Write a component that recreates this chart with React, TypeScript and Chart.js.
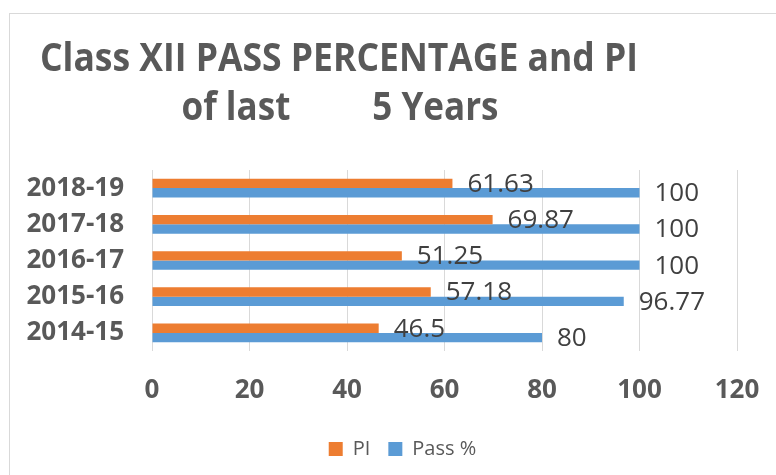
import React, { useEffect, useRef } from "react";
import { Chart, registerables } from "chart.js";

Chart.register(...registerables);

const CATEGORIES = ["2018-19", "2017-18", "2016-17", "2015-16", "2014-15"];
const PI_VALUES = [61.63, 69.87, 51.25, 57.18, 46.5];
const PASS_VALUES = [100, 100, 100, 96.77, 80];
const SERIES_NAMES = ["PI", "Pass %"];
const SERIES_COLORS = ["#ED7D31", "#5B9BD5"];
const X_MIN = 0;
const X_MAX = 120;
const X_STEP = 20;
const TITLE_LINES = ["Class XII PASS PERCENTAGE and PI", "of last         5 Years"];

const FONT = "'Open Sans', 'DejaVu Sans', sans-serif";

const titlePlugin = {
  id: "twoLineTitle",
  afterDraw(chart: any) {
    const ctx = chart.ctx;
    ctx.save();
    ctx.fillStyle = "#595959";
    ctx.font = `bold 39px ${FONT}`;
    ctx.textAlign = "center";
    ctx.textBaseline = "alphabetic";
    ctx.fillText(TITLE_LINES[0], 339, 71, 598);
    ctx.fillText(TITLE_LINES[1], 340, 120, 317);
    ctx.restore();
  },
};

const valueLabelPlugin = {
  id: "valueLabels",
  afterDatasetsDraw(chart: any) {
    const ctx = chart.ctx;
    ctx.save();
    ctx.font = `26px ${FONT}`;
    ctx.fillStyle = "#404040";
    ctx.textAlign = "left";
    ctx.textBaseline = "middle";
    chart.data.datasets.forEach((ds: any, di: number) => {
      const meta = chart.getDatasetMeta(di);
      meta.data.forEach((bar: any, i: number) => {
        ctx.fillText(String(ds.data[i]), bar.x + 15, bar.y + 1);
      });
    });
    ctx.restore();
  },
};

const legendShiftPlugin = {
  id: "legendShift",
  afterLayout(chart: any) {
    const lg = chart.legend;
    if (lg) {
      lg.left += 34;
      lg.right += 34;
    }
  },
};

export default function App() {
  const ref = useRef<HTMLCanvasElement>(null);

  useEffect(() => {
    if (!ref.current) return;
    const chart = new Chart(ref.current, {
      type: "bar",
      data: {
        labels: CATEGORIES,
        datasets: [
          {
            label: SERIES_NAMES[0],
            data: PI_VALUES,
            backgroundColor: SERIES_COLORS[0],
            barPercentage: 1,
            categoryPercentage: 0.516,
          },
          {
            label: SERIES_NAMES[1],
            data: PASS_VALUES,
            backgroundColor: SERIES_COLORS[1],
            barPercentage: 1,
            categoryPercentage: 0.516,
          },
        ],
      },
      options: {
        indexAxis: "y",
        responsive: false,
        animation: false,
        devicePixelRatio: 1,
        layout: { padding: { top: 170, right: 39, left: 0, bottom: 6 } },
        plugins: {
          title: { display: false },
          tooltip: { enabled: false },
          legend: {
            display: true,
            position: "bottom",
            labels: {
              boxWidth: 14,
              boxHeight: 14,
              padding: 18,
              color: "#595959",
              font: { family: FONT, size: 20 },
            },
          },
        },
        scales: {
          x: {
            min: X_MIN,
            max: X_MAX,
            ticks: {
              stepSize: X_STEP,
              padding: 24,
              color: "#595959",
              font: { family: FONT, size: 26, weight: "bold" },
            },
            grid: { color: "#d9d9d9", lineWidth: 1, drawTicks: false },
            border: { display: false },
            afterFit: (scale: any) => {
              scale.height = 70;
              scale.paddingLeft = 0;
              scale.paddingRight = 0;
            },
          },
          y: {
            ticks: {
              padding: 28,
              color: "#595959",
              font: { family: FONT, size: 26, weight: "bold" },
            },
            grid: { display: false, drawTicks: false },
            border: { display: false },
            afterFit: (scale: any) => {
              scale.width = 152;
              scale.paddingTop = 0;
              scale.paddingBottom = 0;
            },
          },
        },
      },
      plugins: [valueLabelPlugin, titlePlugin, legendShiftPlugin],
    });
    return () => chart.destroy();
  }, []);

  return (
    <div style={{ position: "absolute", left: 0, top: 0, width: 776, height: 475, overflow: "hidden", background: "#fff" }}>
      <div
        style={{
          position: "absolute",
          left: 9,
          top: 13,
          width: 900,
          height: 600,
          border: "1px solid #d9d9d9",
        }}
      />
      <canvas ref={ref} width={776} height={475} style={{ position: "absolute", left: 0, top: 0 }} />
    </div>
  );
}
